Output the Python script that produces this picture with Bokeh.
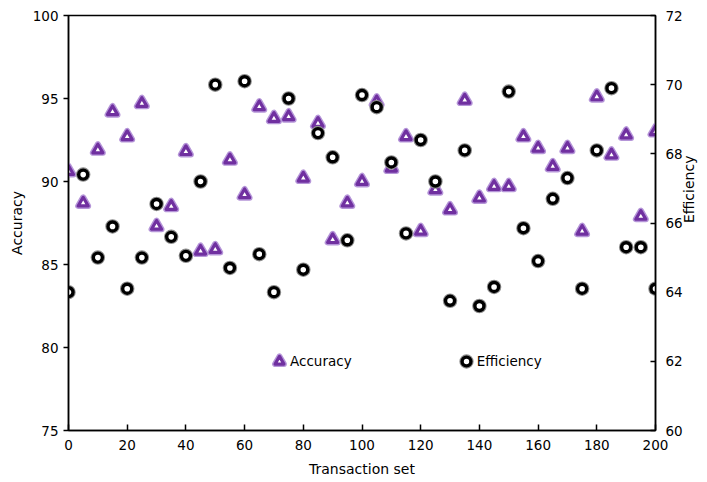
import math
from bokeh.plotting import figure
from bokeh.models import Range1d, LinearAxis, Legend, LegendItem, FixedTicker
from bokeh.embed import file_html
from bokeh.resources import INLINE

transaction_set = [0, 5, 10, 15, 20, 25, 30, 35, 40, 45, 50, 55, 60, 65, 70, 75, 80, 85, 90, 95,
                   100, 105, 110, 115, 120, 125, 130, 135, 140, 145, 150, 155, 160, 165, 170, 175,
                   180, 185, 190, 195, 200]
accuracy = [90.6, 88.7, 91.9, 94.2, 92.7, 94.7, 87.3, 88.5, 91.8, 85.8, 85.9, 91.3, 89.2, 94.5,
            93.8, 93.9, 90.2, 93.5, 86.5, 88.7, 90.0, 94.8, 90.8, 92.7, 87.0, 89.5, 88.3, 94.9,
            89.0, 89.7, 89.7, 92.7, 92.0, 90.9, 92.0, 87.0, 95.1, 91.6, 92.8, 87.9, 93.0]
efficiency = [64.0, 67.4, 65.0, 65.9, 64.1, 65.0, 66.55, 65.6, 65.05, 67.2, 70.0, 64.7, 70.1, 65.1,
              64.0, 69.6, 64.65, 68.6, 67.9, 65.5, 69.7, 69.35, 67.75, 65.7, 68.4, 67.2, 63.75,
              68.1, 63.6, 64.15, 69.8, 65.85, 64.9, 66.7, 67.3, 64.1, 68.1, 69.9, 65.3, 65.3, 64.1]
x_ticks = [0, 20, 40, 60, 80, 100, 120, 140, 160, 180, 200]
acc_ticks = [75, 80, 85, 90, 95, 100]
eff_ticks = [60, 62, 64, 66, 68, 70, 72]

FONT = "DejaVu Sans"
TICK_SIZE = "13.5px"
LABEL_SIZE = "14px"

p = figure(width=707, height=482, output_backend="svg", toolbar_location=None,
           x_range=Range1d(0, 200), y_range=Range1d(75, 100),
           min_border_left=68, min_border_right=52, min_border_top=15, min_border_bottom=52)
p.extra_y_ranges = {"eff": Range1d(60, 72)}
p.xgrid.visible = False
p.ygrid.visible = False
p.outline_line_color = "black"
p.outline_line_width = 1.5
p.background_fill_color = "white"
p.border_fill_color = "white"

def style_axis(ax, label, ticks, tin, tout, standoff, lab_standoff):
    ax.axis_label = label
    ax.ticker = FixedTicker(ticks=ticks)
    ax.axis_line_color = "black"
    ax.axis_line_width = 1.5
    ax.major_tick_line_color = "black"
    ax.major_tick_line_width = 1.5
    ax.major_tick_in = tin
    ax.major_tick_out = tout
    ax.minor_tick_line_color = None
    ax.major_label_text_font = FONT
    ax.major_label_text_font_size = TICK_SIZE
    ax.major_label_text_color = "black"
    ax.major_label_standoff = standoff
    ax.axis_label_text_font = FONT
    ax.axis_label_text_font_size = LABEL_SIZE
    ax.axis_label_text_font_style = "normal"
    ax.axis_label_text_color = "black"
    ax.axis_label_standoff = lab_standoff

style_axis(p.xaxis[0], "Transaction set", x_ticks, 6, 0, 9, 8)
style_axis(p.yaxis[0], "Accuracy", acc_ticks, 0, 5, 5, 5)

right = LinearAxis(y_range_name="eff")
style_axis(right, "Efficiency", eff_ticks, 5, 0, 10, 3)
right.axis_label_orientation = math.pi / 2
p.add_layout(right, "right")

ACC_DARK = "#7030a0"
ACC_HALO = "#b595d8"

acc_halo = p.scatter(transaction_set, accuracy, marker="triangle", size=10,
                     fill_color=None, line_color=ACC_HALO, line_width=6, line_join="round")
acc_main = p.scatter(transaction_set, accuracy, marker="triangle", size=10,
                     fill_color="white", line_color=ACC_DARK, line_width=3.2, line_join="round")

eff_halo = p.scatter(transaction_set, efficiency, marker="circle", size=9, y_range_name="eff",
                     fill_color=None, line_color="#8c8c8c", line_width=5.5)
eff_main = p.scatter(transaction_set, efficiency, marker="circle", size=9, y_range_name="eff",
                     fill_color="white", line_color="black", line_width=3.4)

legend = Legend(items=[LegendItem(label="Accuracy", renderers=[acc_halo, acc_main]),
                       LegendItem(label="Efficiency", renderers=[eff_halo, eff_main])],
                orientation="horizontal", location=(200, 58), spacing=103,
                glyph_width=22, glyph_height=22, label_standoff=0,
                padding=0, margin=0, border_line_color=None, background_fill_alpha=0,
                label_text_font=FONT, label_text_font_size=TICK_SIZE, label_text_color="black")
p.add_layout(legend, "center")

open("out.html", "w").write(file_html(p, INLINE))
